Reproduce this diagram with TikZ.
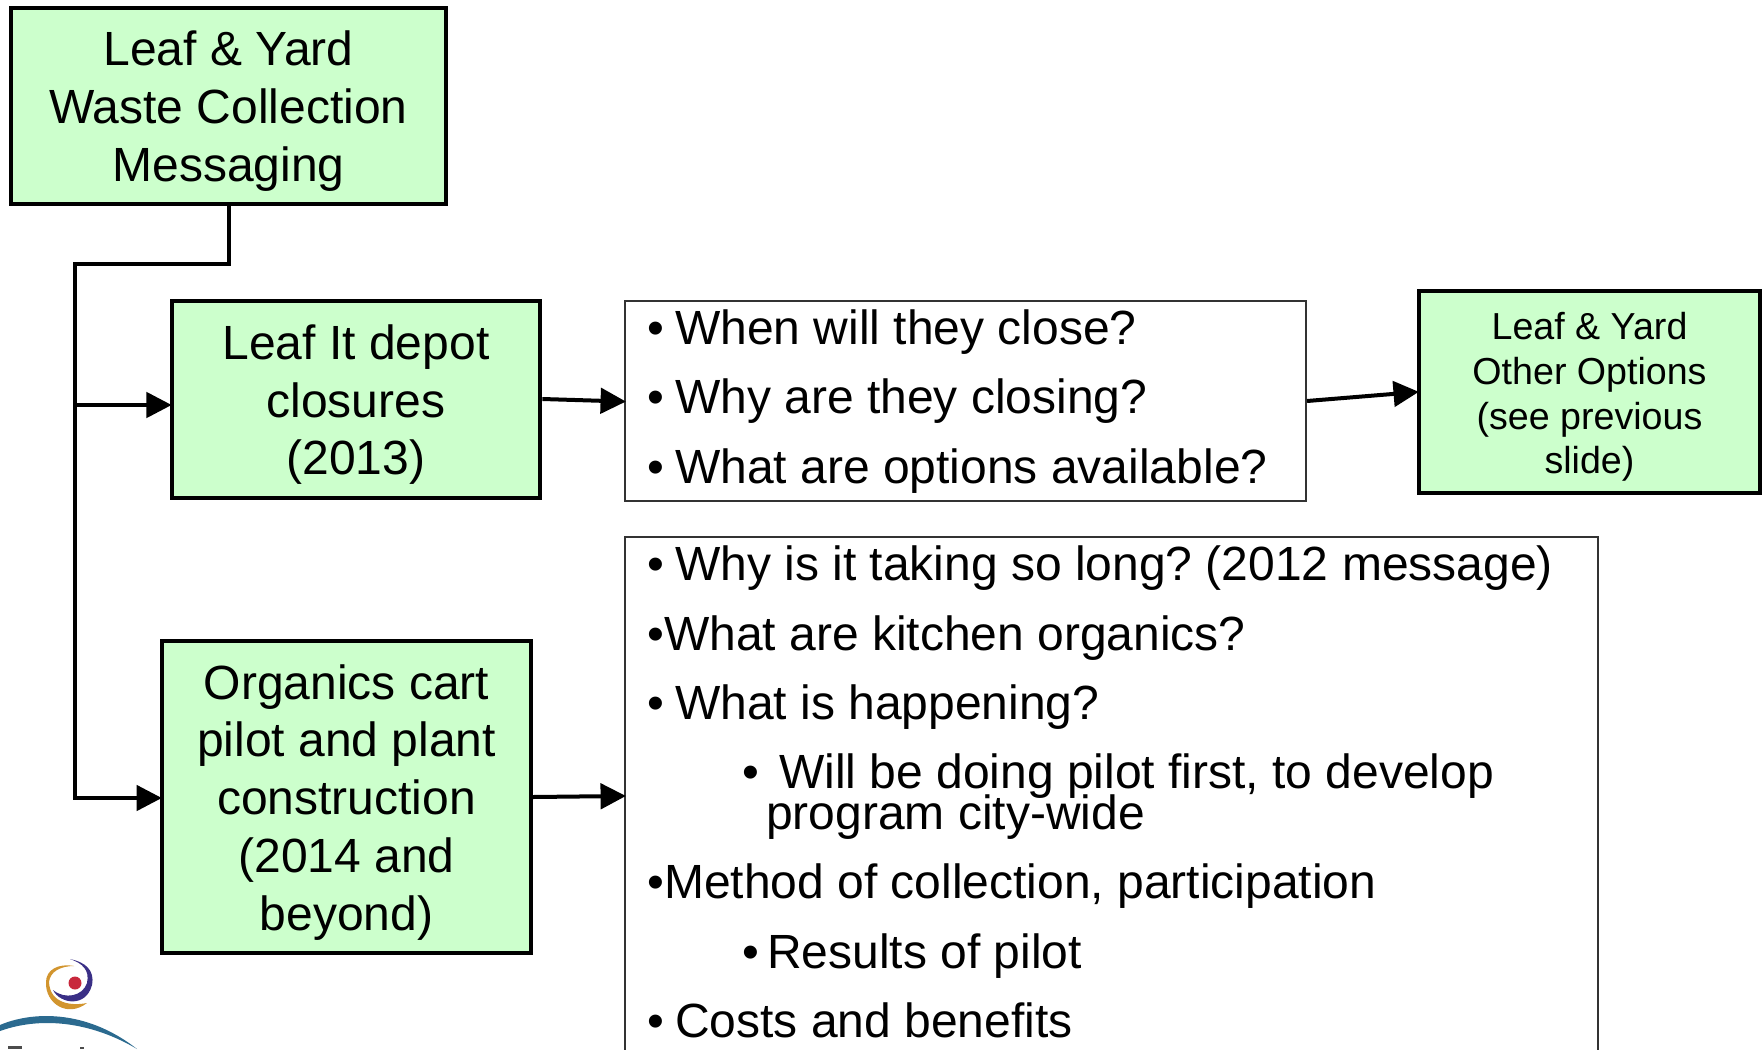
\documentclass[tikz,border=0pt]{standalone}
\usepackage{fontspec}
\setmainfont{Liberation Sans}
\usetikzlibrary{arrows.meta,calc}
\definecolor{boxgreen}{HTML}{CCFFCC}
\definecolor{logoblue}{HTML}{2B6A8F}
\definecolor{logogold}{HTML}{D2952E}
\definecolor{logopurple}{HTML}{3A2F86}
\definecolor{logored}{HTML}{C8283C}
\newcommand\bigstr{\rule{0pt}{34pt}}
\newcommand\smallstr{\rule{0pt}{28pt}}
\frenchspacing
\tikzset{
  x=0.75pt,y=-0.75pt,
  greenbox/.style={draw=black,line width=3pt,fill=boxgreen,inner sep=0pt,align=center,
    font=\fontsize{36}{43.3}\selectfont},
  smallgreen/.style={greenbox,font=\fontsize{28.2}{33.6}\selectfont},
  whitebox/.style={draw=black!80,line width=1.4pt,fill=white,inner sep=0pt},
  bul/.style={anchor=base west,inner sep=0pt,font=\fontsize{36}{30}\selectfont\frenchspacing,align=left},
  flow/.style={line width=3pt,shorten >=-1.5pt,-{Triangle[length=19pt,width=19pt]}},
  wire/.style={line width=3pt}
}
\begin{document}
\begin{tikzpicture}
\useasboundingbox (0,0) rectangle (1762,1049);
\clip (0,0) rectangle (1762,1049);
\node[greenbox,minimum width=326pt,minimum height=147pt] (top) at (228.5,106) {\bigstr Leaf \& Yard\\Waste Collection\\Messaging};
\node[greenbox,minimum width=276.5pt,minimum height=147.5pt] (depot) at (356,399.5) {\bigstr Leaf It depot\\closures\\(2013)};
\node[greenbox,minimum width=277pt,minimum height=234pt] (cart) at (346.5,797) {\bigstr Organics cart\\pilot and plant\\construction\\(2014 and\\beyond)};
\node[whitebox,minimum width=511pt,minimum height=150pt] (q1) at (965.5,401) {};
\node[whitebox,minimum width=730pt,minimum height=422pt] (q2) at (1111.5,818) {};
\node[smallgreen,minimum width=256pt,minimum height=151.5pt] (other) at (1589.5,392) {\smallstr Leaf \& Yard\\Other Options\\(see previous\\slide)};

\node[bul] (a1) at (647,344) {•\hspace{8.3pt}When will they close?};
\node[bul] (a2) at (647,413) {•\hspace{8.3pt}Why are they closing?};
\node[bul] (a3) at (647,483) {•\hspace{8.3pt}What are options available?};
\node[bul] (b1) at (647,580) {•\hspace{8.3pt}Why is it taking so long? (2012 message)};
\node[bul] (b2) at (647,650) {•What are kitchen organics?};
\node[bul] (b3) at (647,719) {•\hspace{8.3pt}What is happening?};
\node[bul] (b4) at (742,788) {•\hspace{15pt}Will be doing pilot first, to develop};
\node[bul] (b5) at (766,829) {program city-wide};
\node[bul] (b6) at (647,898) {•Method of collection, participation};
\node[bul] (b7) at (742,968) {•\hspace{6pt}Results of pilot};
\node[bul] (b8) at (647,1037) {•\hspace{8.3pt}Costs and benefits};

\coordinate (bend) at (75,264);
\coordinate (tee) at (75,405);
\coordinate (low) at (75,798);
\draw[wire,line cap=rect] (top.south) |- (bend) -- (low);
\draw[flow] (low) -- (cart.west |- low);
\draw[flow] (tee) -- (depot.west |- tee);
\draw[flow] ($(depot.east)+(0,-0.5)$) -- ($(q1.west)+(0,0.5)$);
\draw[flow] (q1.east) -- (other.west);
\draw[flow] (cart.east |- 0,797) -- (q2.west |- 0,796);

% logo
\fill[logogold] (46,982) .. controls (45,1004) and (68,1018) .. (87,1003)
  .. controls (72,1006) and (50,1004) .. (49,982)
  .. controls (50,972) and (60,966) .. (74,966)
  .. controls (58,963) and (46,970) .. (46,982) -- cycle;
\fill[logopurple] (53,990) .. controls (60,1004) and (86,1008) .. (92,985)
  .. controls (95,970) and (85,962) .. (70,959)
  .. controls (82,963) and (90,970) .. (87,983)
  .. controls (83,996) and (65,1000) .. (53,990) -- cycle;
\fill[logored] (75,983) circle[radius=6.5];
\fill[logoblue] (0,1025) .. controls (30,1012) and (85,1008) .. (137,1049)
  .. controls (95,1024) and (45,1015) .. (0,1031) -- cycle;
\fill[black!70] (8,1046) rectangle (22,1049);
\fill[black!70] (80,1047) rectangle (84,1049);
\end{tikzpicture}
\end{document}
